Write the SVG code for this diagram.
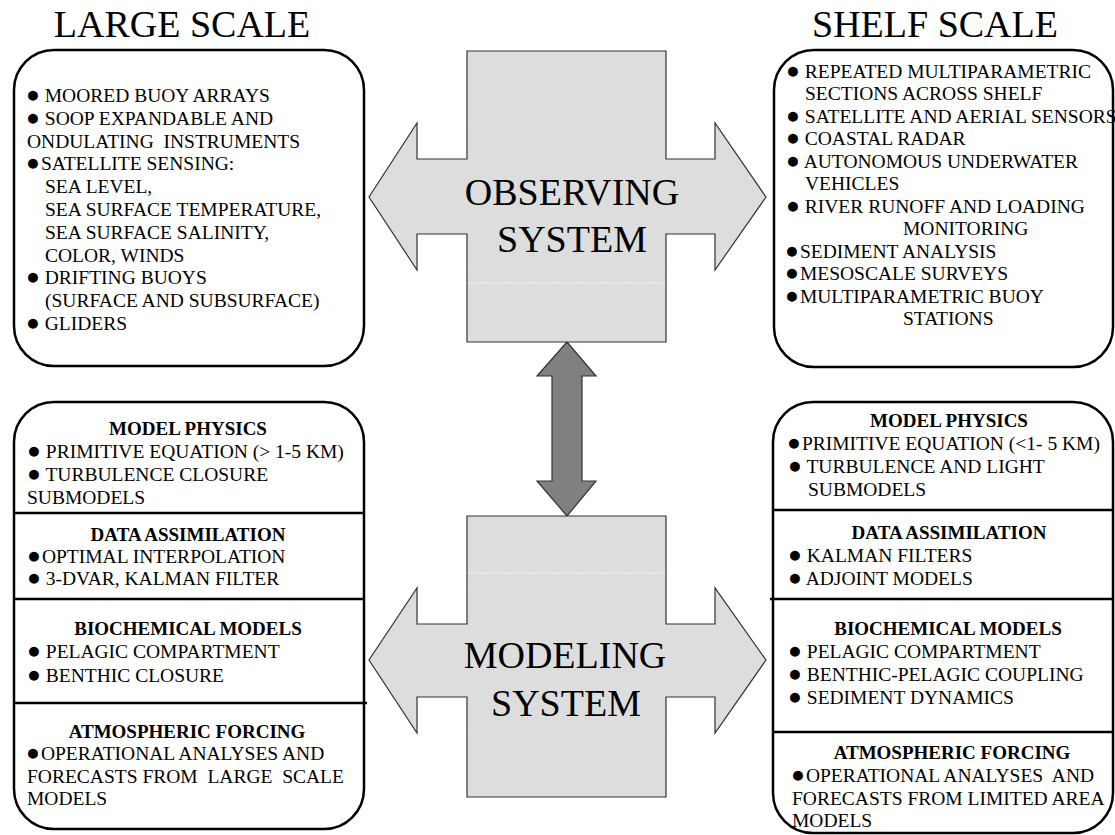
<svg xmlns="http://www.w3.org/2000/svg" width="1115" height="835" viewBox="0 0 1115 835">
<style>
.box{fill:#fff;stroke:#000;stroke-width:2.5}
.sep{stroke:#000;stroke-width:2.5}
.t{font-family:"Liberation Serif","Times New Roman",serif;font-size:19.5px;fill:#000}
.b{font-size:23px}
.h{font-family:"Liberation Serif","Times New Roman",serif;font-size:19px;font-weight:bold;fill:#000;text-anchor:middle}
.title{font-family:"Liberation Serif","Times New Roman",serif;font-size:38px;fill:#000;text-anchor:middle}
.sys{fill:#dddddd;stroke:#333;stroke-width:1.2}
.faint{stroke:#fff;stroke-width:1;stroke-dasharray:2 1;opacity:0.8}
.conn{fill:#808080;stroke:#333;stroke-width:1.2}
</style>
<rect width="1115" height="835" fill="#fff"/>

<g id="title-large"><text class="title" x="182" y="37">LARGE SCALE</text></g>
<g id="title-shelf"><text class="title" x="935" y="37">SHELF SCALE</text></g>

<g id="connectors">
<polygon class="conn" points="567,342 596,376 582,376 582,481 596,481 567,516 537,481 552,481 552,376 537,376"/>
</g>

<g id="observing-system">
<polygon class="sys" points="467,51 666,51 666,159 715,159 715,123 766,197 715,270 715,234 666,234 666,342 467,342 467,234 417,234 417,270 369,197 417,123 417,159 467,159"/>
<line class="faint" x1="468" y1="283" x2="665" y2="283"/>
<text class="title" x="572" y="205">OBSERVING</text>
<text class="title" x="572" y="252">SYSTEM</text>
</g>

<g id="modeling-system">
<polygon class="sys" points="467,516 666,516 666,624 715,624 715,588 766,660 715,733 715,697 666,697 666,797 467,797 467,697 417,697 417,733 369,660 417,588 417,624 467,624"/>
<line class="faint" x1="468" y1="573" x2="665" y2="573"/>
<text class="title" x="565" y="668">MODELING</text>
<text class="title" x="566" y="716">SYSTEM</text>
</g>

<g id="large-scale-observing">
<rect class="box" x="14" y="50" width="350" height="316" rx="40" ry="40"/>
<text class="t" x="26" y="102"><tspan class="b">●</tspan> MOORED BUOY ARRAYS</text>
<text class="t" x="26" y="124.8"><tspan class="b">●</tspan> SOOP EXPANDABLE AND</text>
<text class="t" x="27" y="147.6">ONDULATING&#160; INSTRUMENTS</text>
<text class="t" x="26" y="170.4"><tspan class="b">●</tspan><tspan dx="1">SATELLITE SENSING:</tspan></text>
<text class="t" x="45" y="193.2">SEA LEVEL,</text>
<text class="t" x="45" y="216">SEA SURFACE TEMPERATURE,</text>
<text class="t" x="45" y="238.8">SEA SURFACE SALINITY,</text>
<text class="t" x="45" y="261.6">COLOR, WINDS</text>
<text class="t" x="26" y="284.4"><tspan class="b">●</tspan> DRIFTING BUOYS</text>
<text class="t" x="45" y="307.2">(SURFACE AND SUBSURFACE)</text>
<text class="t" x="26" y="330"><tspan class="b">●</tspan> GLIDERS</text>
</g>

<g id="shelf-scale-observing">
<rect class="box" x="774" y="50" width="339" height="317" rx="40" ry="40"/>
<text class="t" x="786" y="77.5"><tspan class="b">●</tspan> REPEATED MULTIPARAMETRIC</text>
<text class="t" x="805" y="100">SECTIONS ACROSS SHELF</text>
<text class="t" x="786" y="122.5"><tspan class="b">●</tspan> SATELLITE AND AERIAL SENSORS</text>
<text class="t" x="786" y="145"><tspan class="b">●</tspan> COASTAL RADAR</text>
<text class="t" x="786" y="167.5"><tspan class="b">●</tspan> AUTONOMOUS UNDERWATER</text>
<text class="t" x="805" y="190">VEHICLES</text>
<text class="t" x="786" y="212.5"><tspan class="b">●</tspan> RIVER RUNOFF AND LOADING</text>
<text class="t" x="903" y="235">MONITORING</text>
<text class="t" x="785" y="257.5"><tspan class="b">●</tspan><tspan dx="1">SEDIMENT ANALYSIS</tspan></text>
<text class="t" x="785" y="280"><tspan class="b">●</tspan><tspan dx="1">MESOSCALE SURVEYS</tspan></text>
<text class="t" x="785" y="302.5"><tspan class="b">●</tspan><tspan dx="1">MULTIPARAMETRIC BUOY</tspan></text>
<text class="t" x="903" y="325">STATIONS</text>
</g>

<g id="large-scale-modeling">
<rect class="box" x="14" y="402" width="350" height="427" rx="40" ry="40"/>
<line class="sep" x1="14" y1="513" x2="364" y2="513"/>
<line class="sep" x1="14" y1="599" x2="364" y2="599"/>
<line class="sep" x1="14" y1="703" x2="367" y2="703"/>
<text class="h" x="188" y="435">MODEL PHYSICS</text>
<text class="t" x="27" y="458"><tspan class="b">●</tspan> PRIMITIVE EQUATION (&gt; 1-5 KM)</text>
<text class="t" x="27" y="481"><tspan class="b">●</tspan> TURBULENCE CLOSURE</text>
<text class="t" x="27" y="504">SUBMODELS</text>
<text class="h" x="188" y="541">DATA ASSIMILATION</text>
<text class="t" x="27" y="563"><tspan class="b">●</tspan><tspan dx="1">OPTIMAL INTERPOLATION</tspan></text>
<text class="t" x="27" y="585"><tspan class="b">●</tspan> 3-DVAR, KALMAN FILTER</text>
<text class="h" x="188" y="635">BIOCHEMICAL MODELS</text>
<text class="t" x="27" y="658"><tspan class="b">●</tspan> PELAGIC COMPARTMENT</text>
<text class="t" x="27" y="682"><tspan class="b">●</tspan> BENTHIC CLOSURE</text>
<text class="h" x="187" y="738">ATMOSPHERIC FORCING</text>
<text class="t" x="26" y="760"><tspan class="b">●</tspan><tspan dx="1">OPERATIONAL ANALYSES AND</tspan></text>
<text class="t" x="27" y="783">FORECASTS FROM&#160; LARGE&#160; SCALE</text>
<text class="t" x="27" y="805">MODELS</text>
</g>

<g id="shelf-scale-modeling">
<rect class="box" x="773" y="402" width="340" height="431" rx="40" ry="40"/>
<line class="sep" x1="773" y1="510" x2="1113" y2="510"/>
<line class="sep" x1="770" y1="599" x2="1113" y2="599"/>
<line class="sep" x1="773" y1="732" x2="1113" y2="732"/>
<text class="h" x="949" y="427">MODEL PHYSICS</text>
<text class="t" x="787" y="450"><tspan class="b">●</tspan><tspan dx="1">PRIMITIVE EQUATION (&lt;1- 5 KM)</tspan></text>
<text class="t" x="788" y="473"><tspan class="b">●</tspan> TURBULENCE AND LIGHT</text>
<text class="t" x="808" y="496">SUBMODELS</text>
<text class="h" x="949" y="539">DATA ASSIMILATION</text>
<text class="t" x="788" y="562"><tspan class="b">●</tspan> KALMAN FILTERS</text>
<text class="t" x="788" y="585"><tspan class="b">●</tspan> ADJOINT MODELS</text>
<text class="h" x="948" y="635">BIOCHEMICAL MODELS</text>
<text class="t" x="788" y="658"><tspan class="b">●</tspan> PELAGIC COMPARTMENT</text>
<text class="t" x="788" y="681"><tspan class="b">●</tspan> BENTHIC-PELAGIC COUPLING</text>
<text class="t" x="788" y="704"><tspan class="b">●</tspan> SEDIMENT DYNAMICS</text>
<text class="h" x="952" y="759">ATMOSPHERIC FORCING</text>
<text class="t" x="791" y="782"><tspan class="b">●</tspan><tspan dx="1">OPERATIONAL ANALYSES&#160; AND</tspan></text>
<text class="t" x="792" y="805">FORECASTS FROM LIMITED AREA</text>
<text class="t" x="792" y="827">MODELS</text>
</g>
</svg>
